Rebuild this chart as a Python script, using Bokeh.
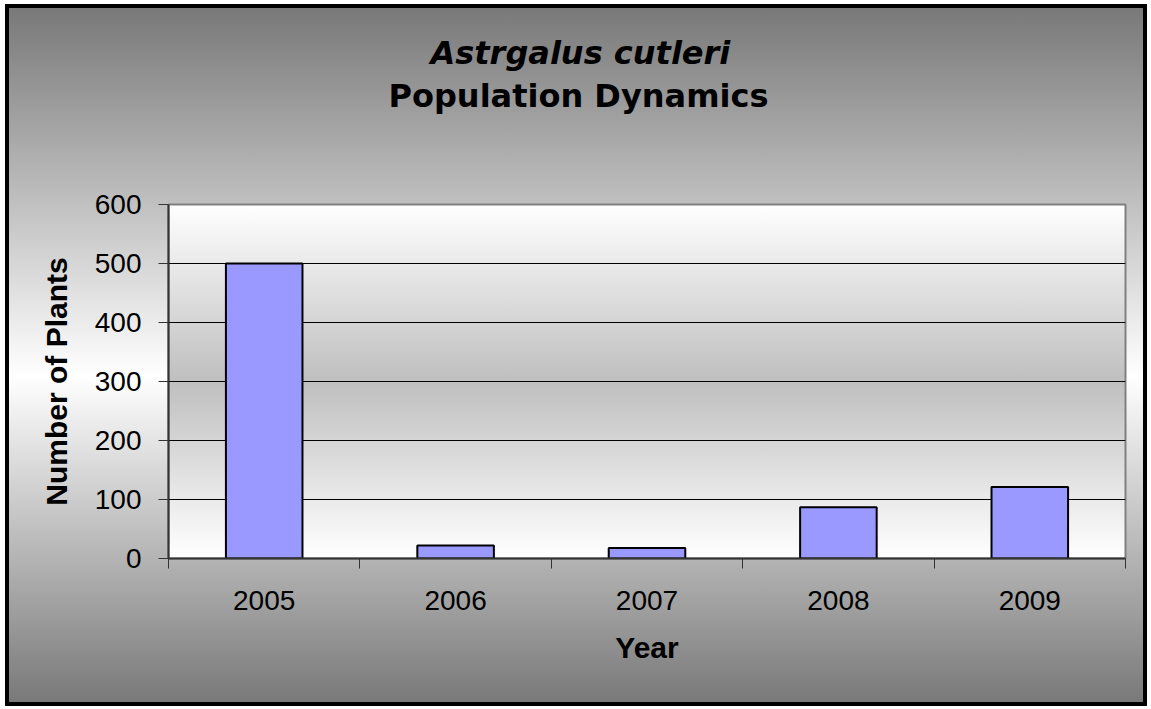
from bokeh.plotting import figure
from bokeh.models import FixedTicker, Title
from bokeh.embed import file_html
from bokeh.resources import INLINE

# ---- data ----
years = [2005, 2006, 2007, 2008, 2009]
plants = [500, 22, 18, 87, 121]
y_ticks = [0, 100, 200, 300, 400, 500, 600]
year_bounds = [2004.5, 2005.5, 2006.5, 2007.5, 2008.5, 2009.5]
title_species = "Astrgalus cutleri"
title_main = "Population Dynamics"
x_label = "Year"
y_label = "Number of Plants"

# ---- layout ----
W, H = 1142, 702
FL, FT, FR, FB = 163, 200, 22, 148
FW, FH = W - FL - FR, H - FT - FB

p = figure(width=W, height=H, title=None,
           x_range=(year_bounds[0], year_bounds[-1]), y_range=(y_ticks[0], y_ticks[-1]),
           output_backend="svg", toolbar_location=None,
           min_border_left=FL, min_border_right=FR,
           min_border_top=FT, min_border_bottom=FB)

p.background_fill_color = None
p.border_fill_color = None
p.outline_line_color = "#808080"
p.outline_line_width = 2

p.styles = {
    "position": "absolute",
    "left": "5px",
    "top": "4px",
    "background": (f"linear-gradient(#ffffff 0%, #bfbfbf 50%, #ffffff 100%) "
                   f"{FL}px {FT}px / {FW}px {FH}px no-repeat, "
                   "linear-gradient(#777777 0%, #ffffff 53%, #777777 100%)"),
    "box-shadow": "inset 0 0 0 4px #000000",
}

p.vbar(x=years, top=plants, width=0.4, fill_color="#9999FF",
       line_color="#000000", line_width=2)

xa = p.below[0]
ya = p.left[0]

# titles (stacked outward from the frame: spacer, main, species)
spacer = Title(text=".", text_font_size="1px", text_color="#d0d0d0", standoff=87)
t1 = Title(text=title_main, align="left", text_font="DejaVu Sans",
           text_font_size="32px", text_font_style="bold", text_color="#000000",
           standoff=0, offset=220)
t2 = Title(text=title_species, align="left", text_font="DejaVu Sans",
           text_font_size="32px", text_font_style="bold italic", text_color="#000000",
           standoff=5, offset=262)
p.add_layout(spacer, "above")
p.add_layout(t1, "above")
p.add_layout(t2, "above")

# x axis
xa.ticker = FixedTicker(ticks=years, minor_ticks=year_bounds)
xa.major_tick_line_color = None
xa.major_tick_out = 10
xa.major_tick_in = 0
xa.minor_tick_line_color = "#333333"
xa.minor_tick_out = 10
xa.minor_tick_in = 0
xa.axis_line_color = "#333333"
xa.axis_line_width = 2
xa.major_label_text_font = "Liberation Sans"
xa.major_label_text_font_size = "28px"
xa.major_label_text_color = "#000000"
xa.major_label_standoff = 22
xa.axis_label = x_label
xa.axis_label_text_font = "Liberation Sans"
xa.axis_label_text_font_size = "30px"
xa.axis_label_text_font_style = "bold"
xa.axis_label_text_color = "#000000"
xa.axis_label_standoff = 18

# y axis
ya.ticker = FixedTicker(ticks=y_ticks)
ya.major_tick_line_color = "#333333"
ya.major_tick_out = 10
ya.major_tick_in = 0
ya.minor_tick_line_color = None
ya.axis_line_color = "#333333"
ya.axis_line_width = 2
ya.major_label_text_font = "Liberation Sans"
ya.major_label_text_font_size = "28px"
ya.major_label_text_color = "#000000"
ya.major_label_standoff = 17
ya.axis_label = y_label
ya.axis_label_text_font = "Liberation Sans"
ya.axis_label_text_font_size = "30px"
ya.axis_label_text_font_style = "bold"
ya.axis_label_text_color = "#000000"
ya.axis_label_standoff = 19

p.xgrid.grid_line_color = None
p.ygrid.ticker = FixedTicker(ticks=y_ticks)
p.ygrid.grid_line_color = "#000000"
p.ygrid.grid_line_width = 1

open("out.html", "w").write(file_html(p, INLINE))
